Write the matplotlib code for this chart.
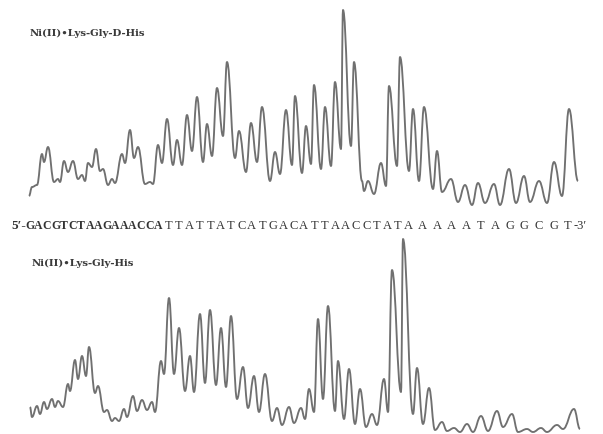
import numpy as np
import matplotlib
matplotlib.use("Agg")
import matplotlib.pyplot as plt
from matplotlib.path import Path
from matplotlib.patches import PathPatch

# densitometer traces (image pixel coordinates, y downwards)
# each list holds the turning points (peaks and valleys) of the trace
top_x = [29, 32, 37, 42, 44, 48, 54, 58, 60, 64, 68, 73, 78, 82, 85, 88, 92, 96,
         100, 103, 108, 112, 115, 122, 125, 130, 134, 138, 145, 150, 153, 158,
         162, 167, 173, 177, 182, 187, 192, 197, 203, 207, 212, 217, 223, 227,
         235, 239, 246, 251, 257, 262, 270, 275, 280, 286, 292, 295, 302, 306,
         311, 314, 321, 325, 331, 335, 341, 343, 351, 354, 362, 364, 368, 374,
         381, 386, 389, 397, 400, 409, 413, 419, 424, 433, 437, 442, 451, 458,
         465, 472, 478, 485, 494, 500, 509, 516, 524, 530, 539, 547, 554, 562,
         569, 578]
top_y = [197, 188, 186, 155, 163, 148, 183, 180, 183, 162, 173, 162, 180, 176,
         182, 164, 168, 150, 172, 170, 186, 180, 184, 155, 164, 131, 159, 148,
         185, 183, 185, 146, 164, 120, 166, 141, 166, 116, 152, 98, 163, 125,
         157, 89, 137, 63, 159, 132, 173, 124, 163, 108, 182, 153, 175, 111,
         166, 97, 174, 127, 165, 86, 170, 108, 167, 83, 150, 11, 147, 63, 182,
         192, 182, 195, 164, 187, 87, 167, 58, 172, 110, 182, 108, 190, 152,
         193, 180, 203, 186, 206, 184, 204, 185, 206, 170, 204, 177, 203, 182,
         204, 163, 197, 110, 182]

bot_x = [30, 32, 37, 40, 44, 47, 52, 55, 58, 63, 68, 70, 75, 78, 82, 86, 89, 95,
         98, 104, 107, 112, 115, 119, 124, 127, 133, 137, 142, 147, 152, 155,
         161, 164, 169, 174, 179, 185, 190, 194, 200, 205, 210, 216, 221, 226,
         231, 237, 243, 248, 254, 259, 265, 272, 277, 282, 289, 294, 301, 305,
         309, 314, 318, 323, 328, 335, 338, 344, 349, 355, 360, 366, 372, 377,
         384, 388, 392, 401, 403, 413, 417, 423, 429, 435, 442, 447, 454, 460,
         467, 473, 481, 488, 497, 503, 512, 518, 527, 533, 541, 547, 557, 563,
         574, 580]
bot_y = [408, 418, 407, 415, 403, 410, 400, 408, 402, 408, 385, 392, 361, 380,
         357, 377, 348, 394, 387, 413, 411, 422, 419, 422, 410, 418, 397, 412,
         401, 411, 403, 413, 362, 375, 299, 375, 329, 392, 357, 393, 315, 384,
         311, 386, 329, 388, 317, 400, 368, 409, 377, 413, 375, 422, 409, 426,
         408, 424, 409, 420, 390, 413, 320, 400, 307, 412, 362, 420, 370, 425,
         390, 428, 415, 426, 380, 413, 271, 393, 240, 415, 369, 425, 389, 431,
         423, 432, 429, 433, 425, 433, 417, 432, 412, 428, 415, 433, 430, 433,
         429, 433, 426, 430, 410, 430]

sequence = "GACGTCTAAGAAACCATTATTATCATGACATTAACCTATAAAAATAGGCGT"
top_label = "Ni(II)\u2022Lys-Gly-D-His"
bot_label = "Ni(II)\u2022Lys-Gly-His"


def trace_path(xs, ys, k=0.42):
    # cubic Bezier through the turning points, flat tangent at each one
    verts = [(xs[0], ys[0])]
    codes = [Path.MOVETO]
    for x0, y0, x1, y1 in zip(xs[:-1], ys[:-1], xs[1:], ys[1:]):
        d = (x1 - x0) * k
        verts += [(x0 + d, y0), (x1 - d, y1), (x1, y1)]
        codes += [Path.CURVE4] * 3
    return Path(verts, codes)


fig = plt.figure(figsize=(6.03, 4.35), dpi=100)
ax = fig.add_axes([0, 0, 1, 1])
ax.set_xlim(0, 603)
ax.set_ylim(435, 0)
ax.axis("off")

trace_color = "#707070"
for xs, ys in [(top_x, top_y), (bot_x, bot_y)]:
    ax.add_patch(PathPatch(trace_path(xs, ys), fill=False, ec=trace_color,
                           lw=1.35, joinstyle="round"))

ax.text(30, 33, top_label, fontsize=7.3, fontweight="bold",
        family="DejaVu Serif", color="#3a3a3a", va="center")
ax.text(32, 263, bot_label, fontsize=7.3, fontweight="bold",
        family="DejaVu Serif", color="#3a3a3a", va="center")

# sequence letters get wider apart towards the 3' end
idx = np.arange(len(sequence))
xs = np.interp(idx, [0, 15, 39, 50], [30, 158, 408, 568])
seq_y = 226
ax.text(26, seq_y, "5\u2032-", fontsize=9.5, family="Liberation Serif",
        fontweight="bold", color="#333333", va="center", ha="right")
for ch, x in zip(sequence, xs):
    ax.text(x, seq_y, ch, fontsize=8.5 if x < 160 else 9,
            family="Liberation Serif",
            fontweight="bold" if x < 160 else "normal",
            color="#333333", va="center", ha="center")
ax.text(574, seq_y, "-3\u2032", fontsize=9, family="Liberation Serif",
        color="#333333", va="center", ha="left")

fig.savefig("out.png", dpi=100)
